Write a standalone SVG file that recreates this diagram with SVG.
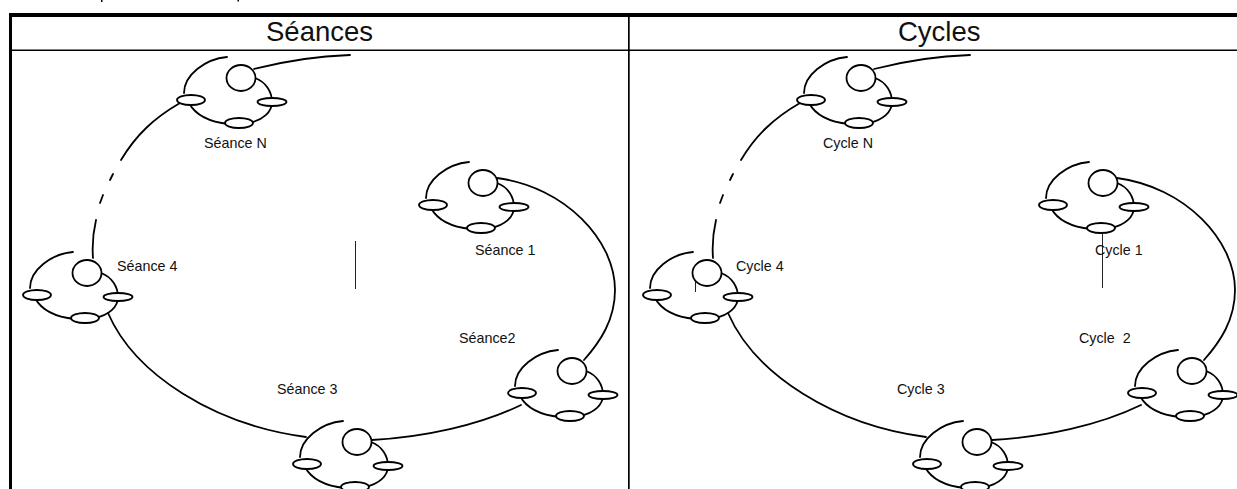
<svg xmlns="http://www.w3.org/2000/svg" width="1237" height="489" viewBox="0 0 1237 489">
<style>
.s{fill:none;stroke:#000;stroke-width:1.8;stroke-linecap:round}
.e{fill:#fff;stroke:#000;stroke-width:1.8}
.v{stroke:#222;stroke-width:1;fill:none}
text{font-family:"Liberation Sans",Arial,sans-serif;fill:#111}
.t{font-size:27.5px}
.l{font-size:14.3px}
</style>
<defs>
<g id="orbit">
<path class="s" d="M-14,-21 C-36,-19 -57,-3 -57,15"/>
<path class="s" d="M-52,25 C-45,38 -32,44 -12,46 M8,45 C22,42 31,34 31,24 C31,14 25,4 14,0"/>
<ellipse class="e" cx="-50" cy="22" rx="14" ry="5"/>
<ellipse class="e" cx="31" cy="24" rx="14.5" ry="4"/>
<ellipse class="e" cx="-2" cy="45" rx="14" ry="5"/>
<ellipse class="e" cx="0" cy="0" rx="14.500" ry="13"/>
</g>
<g id="ring">
<path class="s" d="M254,69 C285,61 320,56 350,55"/>
<path class="s" d="M180,103 C154,118 136,135 121,160"/>
<path class="s" d="M113,174 L110,180 M103,195 L100,203 M96,220 C93,233 92,245 93,258"/>
<path class="s" d="M497,178 C565,187 615,240 615,290 C615,320 600,342 584,360"/>
<path class="s" d="M521,405 C480,425 425,437 372,440"/>
<path class="s" d="M108,313 C135,375 215,425 306,437"/>
</g>
</defs>
<g id="frame" fill="#000">
<rect x="9" y="13" width="1228" height="4"/>
<rect x="9" y="13" width="3" height="476"/>
<rect x="12" y="49.5" width="1225" height="1.5"/>
<rect x="628" y="17" width="1.7" height="472"/>
<rect x="101" y="0" width="1.5" height="2"/>
<rect x="237.500" y="0" width="1.5" height="1.500"/>
</g>
<g id="connectors">
<use href="#ring"/>
<use href="#ring" x="620"/>
<path class="v" d="M355.500,241V289M1102.500,233V288M695.500,282V292"/>
</g>
<g id="title-seances"><text class="t" x="266" y="41">Séances</text></g>
<g id="title-cycles"><text class="t" x="898" y="41">Cycles</text></g>
<g id="seance-n"><use href="#orbit" x="241" y="78"/><text class="l" x="204" y="148">Séance N</text></g>
<g id="seance-1"><use href="#orbit" x="483" y="183"/><text class="l" x="475" y="255">Séance 1</text></g>
<g id="seance-2"><use href="#orbit" x="572" y="371"/><text class="l" x="459" y="343">Séance2</text></g>
<g id="seance-3"><use href="#orbit" x="357" y="442"/><text class="l" x="277" y="394">Séance 3</text></g>
<g id="seance-4"><use href="#orbit" x="87" y="273"/><text class="l" x="117" y="271">Séance 4</text></g>
<g id="cycle-n"><use href="#orbit" x="861" y="78"/><text class="l" x="823" y="148">Cycle N</text></g>
<g id="cycle-1"><use href="#orbit" x="1103" y="183"/><text class="l" x="1095" y="255">Cycle 1</text></g>
<g id="cycle-2"><use href="#orbit" x="1192" y="371"/><text class="l" x="1079" y="343" xml:space="preserve">Cycle  2</text></g>
<g id="cycle-3"><use href="#orbit" x="977" y="442"/><text class="l" x="897" y="394">Cycle 3</text></g>
<g id="cycle-4"><use href="#orbit" x="707" y="273"/><text class="l" x="736" y="271">Cycle 4</text></g>
</svg>
